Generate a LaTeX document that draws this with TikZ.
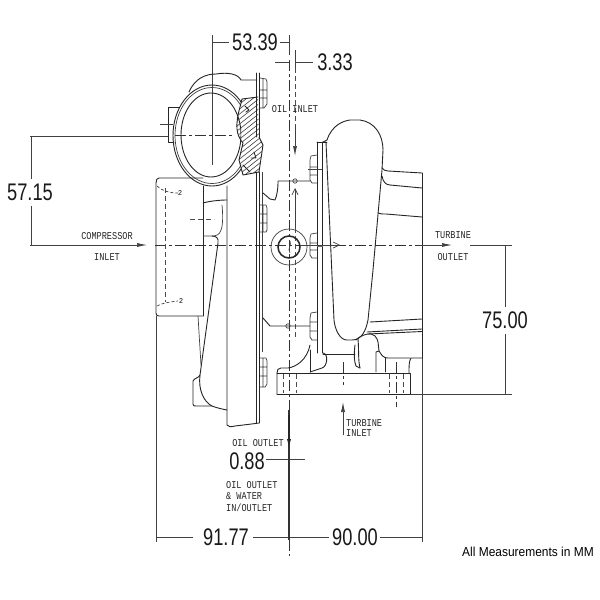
\documentclass[tikz,border=0pt]{standalone}
\usepackage{fontspec}
\setmainfont{Liberation Sans}
\newfontfamily\monof{Liberation Mono}
\usetikzlibrary{arrows.meta}
\tikzset{
  x=1pt,y=-1pt,
  part/.style={line width=.9pt,line join=round,line cap=round,black!85},
  thin part/.style={line width=.7pt,black!75},
  hid/.style={line width=.7pt,dash pattern=on 5pt off 3pt,black!70},
  cl/.style={line width=.8pt,dash pattern=on 11pt off 3pt on 3pt off 3pt,black!80},
  dimn/.style={line width=.7pt,black!75},
  dimtxt/.style={inner sep=0pt,xscale=.76,font=\fontsize{24}{24}\selectfont,text=black!90},
  small/.style={inner sep=0pt,font=\monof\fontsize{10.5}{11}\selectfont,xscale=.815,text=black!85},
  tipf/.style={-{Latex[length=10pt,width=4pt]}},
  tipo/.style={-{Straight Barb[length=6pt,width=6pt]}},
}
\begin{document}
\begin{tikzpicture}
\useasboundingbox[fill=white] (0,0) rectangle (600,600);
% ---- centre lines
\draw[cl] (155,245) -- (420,245);
\draw[cl] (175,135.5) -- (232,135.5);
\draw[cl] (289,60) -- (289,410);
\draw[hid] (295,60) -- (295,125);
\draw[hid] (295,228) -- (295,340);
\draw[dimn] (212,35) -- (212,165);
\draw[dimn] (289,35) -- (289,55);
\draw[dimn] (295,50) -- (295,68);
% ---- compressor volute
\begin{scope}
\clip (150,60) rectangle (241,200);
\draw[part] (212,135.5) ellipse[x radius=39,y radius=50.5];
\draw[thin part] (212,135.5) ellipse[x radius=37,y radius=48];
\draw[part] (211,135) ellipse[x radius=30,y radius=42];
\end{scope}
\draw[part] (179,107) -- (168,107) -- (168,142) -- (174,142);
\draw[part] (189,92) .. controls (195,78) and (206,74) .. (216,74) .. controls (228,72) and (238,74) .. (241,80) -- (257,80);
\draw[thin part] (160,124) -- (173,124);
% hatch section
\begin{scope}
\clip (242,99) -- (258,97) -- (259,137) -- (263,145) -- (259,172) -- (243,175) -- (239,160) -- (243,143) -- (236,127) -- (240,107) -- cycle;
\foreach \k in {0,5,...,100} \draw[line width=.6pt,black!75] (232,110+\k) -- (270,80+\k);
\end{scope}
\draw[part] (242,99) -- (258,97) (259,137) -- (263,145) -- (259,172) -- (243,175) -- (239,160) -- (243,143) .. controls (236,135) and (235,125) .. (240,107) -- (242,99);
\draw[part] (245,106) -- (249,110) -- (246,112) (254,152) -- (256,158) -- (251,158) (243,165) -- (250,172);
% compressor plate and bolts
\draw[part] (256.8,73) -- (256.8,137) (259.2,73) -- (259.2,137) (256.8,172) -- (256.8,423) (259.2,172) -- (259.2,423);
\draw[thin part] (262,172) -- (262,352);
\draw[thin part] (260,78) -- (266,79) -- (267,82) -- (267,104) -- (264,108) -- (260,108) (263,78) -- (263,108) (260,90) -- (267,90) (260,98) -- (267,98);
\draw[thin part] (260,205) -- (266,205) -- (267,208) -- (267,230) -- (266,232) -- (260,232) (263,205) -- (263,232) (260,214) -- (267,214) (260,223) -- (267,223);
\draw[thin part] (260,358) -- (266,358) -- (267,361) -- (267,384) -- (265,387) -- (260,387) (263,358) -- (263,387) (260,367) -- (267,367) (260,376) -- (267,376);
% compressor inlet
\draw[part] (203,178) -- (159,178) .. controls (157,178) and (156,180) .. (156,183) -- (156,313) .. controls (156,315) and (157,316) .. (159,316) -- (203,316);
\draw[part] (203,186) -- (203,316);
\draw[hid] (165,188) -- (165,302);
\draw[thin part,densely dashed] (157,186) .. controls (162,191) and (170,193) .. (178,193);
\draw[thin part,densely dashed] (157,306) .. controls (162,303) and (170,302) .. (178,301);
\node[inner sep=0pt,font=\fontsize{7}{7}\selectfont] (tila) at (180,193) {2};
\node[inner sep=0pt,font=\fontsize{7}{7}\selectfont] (tilb) at (181,301) {2};
\draw[hid] (190,219) -- (214,219);
% compressor body
\draw[part] (227,186) -- (227,425) .. controls (228,427) and (231,427) .. (235,426) .. controls (243,425) and (252,424) .. (259,423);
\draw[part] (203,203) .. controls (210,201) and (220,200) .. (227,200);
\draw[thin part] (222,205) .. controls (223,215) and (223,225) .. (221,230) .. controls (220,235) and (215,236) .. (213,236) -- (203,236);
\draw[part] (212,236) .. controls (216,236) and (219,238) .. (218,243) -- (200,375) .. controls (199,378) and (194,378) .. (193,381) -- (193,404) .. controls (193,406) and (194,406) .. (196,406) -- (212,406) .. controls (217,408) and (222,409) .. (227,410);
\draw[thin part] (198,316) -- (201,365);
\draw[part] (200,375) .. controls (198,390) and (204,402) .. (212,406);
% oil lines
\draw[part] (263,193) -- (270,199) -- (275,200) .. controls (277,195) and (278,190) .. (278,181) -- (310,181);
\draw[part] (263,318) -- (270,326) -- (310,326);
\draw[thin part] (295,181) circle[radius=2.2];
\draw[thin part] (288,326) circle[radius=2.2];
% centre bore
\draw[thin part] (289,247) circle[radius=18];
\draw[line width=1.5pt,black!85] (289,247) circle[radius=11];
\draw[thin part] (290,241) .. controls (292,245) and (287,248) .. (290,253);
% turbine plate and bolts
\draw[part] (317,142) -- (317,353) (322.5,142) -- (322.5,353) (317,142) -- (327,142);
\draw[thin part] (317,155) -- (311,156) -- (310,160) -- (310,180) -- (312,183) -- (317,183) (310,167) -- (317,167) (310,175) -- (317,175);
\draw[thin part] (317,233) -- (311,234) -- (310,238) -- (310,255) -- (312,258) -- (317,258) (310,243) -- (317,243) (310,250) -- (317,250);
\draw[thin part] (317,312) -- (311,313) -- (310,318) -- (310,337) -- (312,340) -- (317,340) (310,322) -- (317,322) (310,331) -- (317,331);
\draw[thin part] (308,169) -- (322,169);
\draw[line width=1.2pt,black!60] (317,246) -- (323,246);
% turbine scroll
\draw[part] (323,142) -- (327,140) .. controls (332,125) and (343,121) .. (350,120) -- (360,120) .. controls (375,122) and (383,135) .. (383,150) -- (382,170) -- (373,270) -- (368,320) .. controls (366,330) and (362,340) .. (352,340) -- (347,340) .. controls (340,340) and (335,330) .. (334,320) -- (326,142);
% outlet
\draw[part] (382,168) .. controls (384,170) and (385,171) .. (388,171) -- (422,173);
\draw[part] (382,176) .. controls (383,182) and (386,185) .. (390,185) -- (422,188);
\draw[part] (378,213) .. controls (380,214) and (382,214) .. (386,214) -- (422,217);
\draw[part] (422,173) -- (422,358);
\draw[part] (370,322) -- (422,319);
\draw[part] (367,332) -- (422,329) (368,334) -- (422,331.5);
% pedestal
\draw[part] (323,353) .. controls (329,354) and (327,367) .. (322,368) -- (310,372);
\draw[part] (323,354) -- (355,354);
\draw[part] (310,350) -- (310,372);
\draw[part] (355,345) .. controls (354,352) and (354,362) .. (356,366) -- (360,368);
\draw[part] (358,339) .. controls (359,350) and (358,360) .. (360,368);
\draw[part] (356,340) .. controls (362,334) and (372,332) .. (375,336) .. controls (379,340) and (378,345) .. (379,351);
\draw[part] (376,372) -- (376,352) -- (379,351) .. controls (382,356) and (384,358) .. (388,358) -- (410,358);
\draw[part] (385,358) -- (385,372);
\draw[part] (409,373) .. controls (409,366) and (409,361) .. (411,358) -- (422,358);
\draw[part] (277,394) -- (277,373) .. controls (277,370) and (278,368) .. (281,368) -- (288,368) .. controls (296,367) and (307,360) .. (310,345);
\draw[part] (277,373) -- (410,373) -- (410,394) -- (277,394);
\draw[hid] (283,374) -- (283,393) (296,374) -- (296,393) (389,374) -- (389,393) (403,374) -- (403,393);
\draw[cl] (396,362) -- (396,407);
\draw[cl] (343,362) -- (343,385);
% ---- dimensions
\draw[dimn] (212,42) -- (229,42);
\draw[dimn] (280,42) -- (289,42);
\draw[dimn] (275,62) -- (289,62) (295,62) -- (313,62);
\node[dimtxt] (d5339) at (255,42) {53.39};
\node[dimtxt] (d333) at (335,62) {3.33};
\draw[dimn] (30,136) -- (168,136);
\draw[dimn] (31,136) -- (31,179) (31,206) -- (31,245);
\node[dimtxt] (d5715) at (30,192) {57.15};
\draw[dimn] (505,245) -- (505,307) (505,334) -- (505,394);
\node[dimtxt] (d7500) at (505,320) {75.00};
\draw[dimn] (411,394) -- (512,394);
\draw[dimn] (470,245) -- (512,245);
\draw[dimn] (156,316) -- (156,542);
\draw[dimn] (422,358) -- (422,542);
\draw[dimn] (156,537) -- (193,537) (253,537) -- (289,537) (289,537) -- (329,537) (380,537) -- (422,537);
\node[dimtxt] (d9177) at (226,537) {91.77};
\node[dimtxt] (d9000) at (355,537) {90.00};
\draw[dimn] (266,459) -- (305,459);
\node[dimtxt] (d088) at (247,461) {0.88};
\draw[line width=1.1pt,black!80] (289,410) -- (289,540);
\draw[cl] (289,540) -- (289,556);
\draw[line width=1.1pt,tipf,black!85] (289,415) -- (289,449);
\draw[dimn,tipf] (295,125) -- (295,156);
\draw[dimn,tipo] (295,228) -- (295,188);
% ---- flow arrows
\draw[dimn,tipf] (30,245) -- (147,245);
\draw[dimn,tipo] (300,245) -- (340,245);
\draw[dimn,tipf] (420,245) -- (452,245);
\draw[dimn] (343,435) -- (343,412);
\draw[dimn,tipf] (343,420) -- (343,402);
% ---- labels
\node[small] (t1) at (295,109) {OIL INLET};
\node[small] (t2) at (107,236) {COMPRESSOR};
\node[small] (t3) at (107,257) {INLET};
\node[small] (t4) at (453,235) {TURBINE};
\node[small] (t5) at (453,257) {OUTLET};
\node[small,anchor=west] (t6) at (346,423) {TURBINE};
\node[small,anchor=west] (t7) at (346,433) {INLET};
\node[small] (t8) at (258,443) {OIL OUTLET};
\node[small,anchor=west] (t9) at (226,485) {OIL OUTLET};
\node[small,anchor=west] (t10) at (226,496) {\& WATER};
\node[small,anchor=west] (t11) at (226,508) {IN/OUTLET};
\node[inner sep=0pt,anchor=west,font=\fontsize{13}{13}\selectfont,xscale=.92] (t12) at (462,552) {All Measurements in MM};
\end{tikzpicture}
\end{document}
